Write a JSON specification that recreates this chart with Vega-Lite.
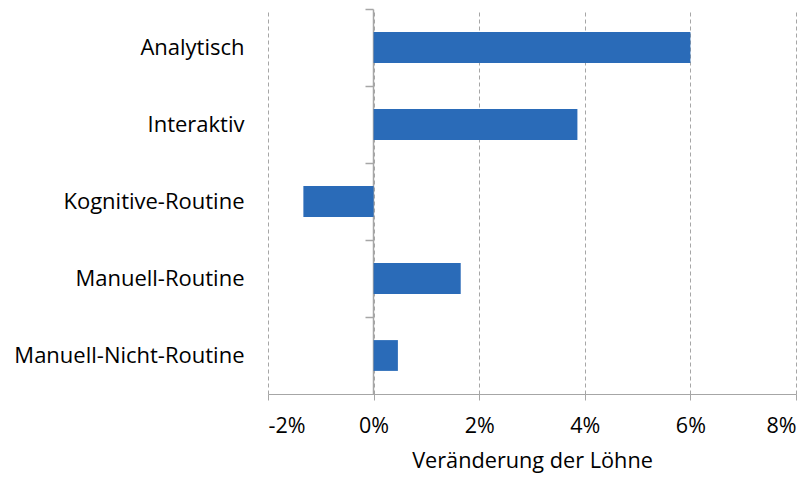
{
  "$schema": "https://vega.github.io/schema/vega-lite/v6.json",
  "width": 528,
  "height": 385,
  "autosize": {"type": "none"},
  "padding": {"left": 268, "top": 9, "right": 16, "bottom": 83},
  "config": {"font": "Open Sans", "view": {"stroke": null}},
  "data": {
    "values": [
      {"kategorie": "Analytisch", "wert": 0.060},
      {"kategorie": "Interaktiv", "wert": 0.0386},
      {"kategorie": "Kognitive-Routine", "wert": -0.0133},
      {"kategorie": "Manuell-Routine", "wert": 0.0165},
      {"kategorie": "Manuell-Nicht-Routine", "wert": 0.0046}
    ]
  },
  "layer": [
    {
      "mark": {"type": "bar", "opacity": 0},
      "encoding": {
        "y": {
          "field": "kategorie", "type": "nominal", "sort": null,
          "scale": {"paddingInner": 0.6, "paddingOuter": 0.3},
          "axis": {"orient": "left", "offset": -105, "labels": false, "title": null, "grid": false,
                   "domainColor": "#a6a6a6", "domainWidth": 1.5, "tickColor": "#a6a6a6", "tickSize": 8, "tickWidth": 1.5, "tickOffset": -38.5}
        },
        "x": {
          "field": "wert", "type": "quantitative",
          "scale": {"domain": [-0.02, 0.08], "nice": false},
          "axis": {"format": ".0%", "values": [-0.02, 0, 0.02, 0.04, 0.06, 0.08],
                   "labelExpr": "replace(datum.label, '−', '-')",
                   "grid": true, "gridDash": [4, 3], "gridColor": "#a6a6a6",
                   "domainColor": "#a6a6a6", "tickColor": "#a6a6a6", "tickSize": 6,
                   "labelFontSize": 21.5, "labelColor": "#000", "labelPadding": 15,
                   "title": "Veränderung der Löhne", "titleFontSize": 21.7, "titleFontWeight": "normal",
                   "titleColor": "#000", "titlePadding": 14}
        }
      }
    },
    {
      "mark": {"type": "bar", "color": "#2a6bb8"},
      "encoding": {
        "y": {
          "field": "kategorie", "type": "nominal", "sort": null,
          "axis": {"orient": "left", "title": null, "domain": false, "ticks": false, "grid": false,
                   "labelFontSize": 22, "labelColor": "#000", "labelPadding": 24, "labelLimit": 300}
        },
        "x": {"field": "wert", "type": "quantitative"}
      }
    }
  ],
  "resolve": {"axis": {"y": "independent"}}
}
